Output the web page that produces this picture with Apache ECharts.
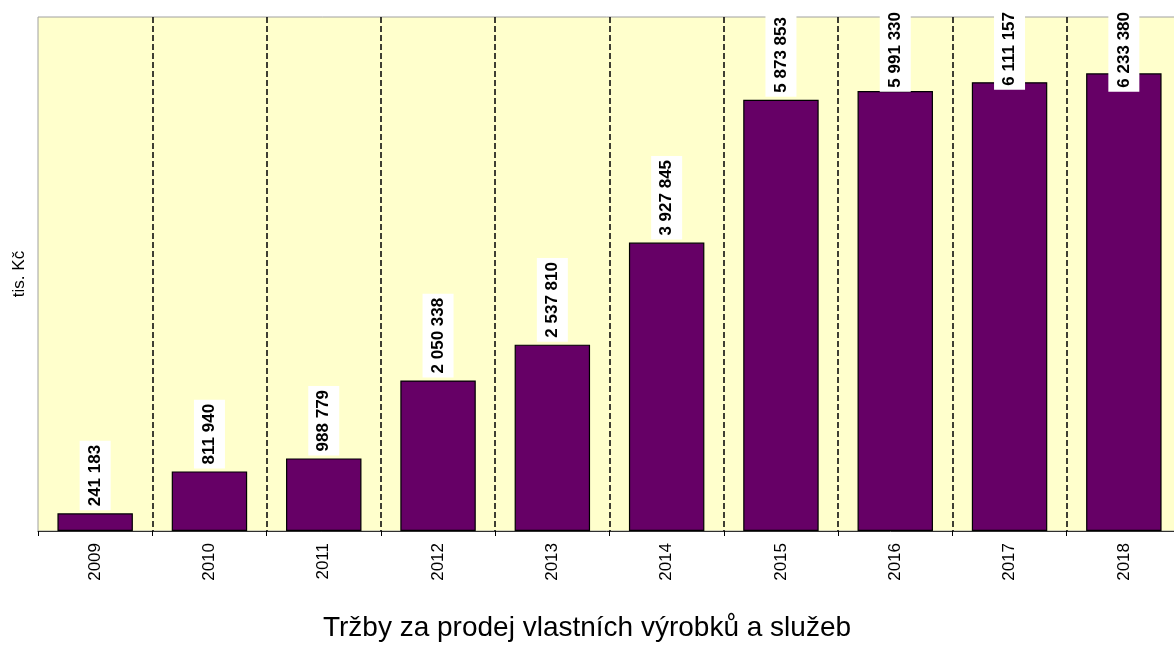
<!DOCTYPE html>
<html>
<head>
<meta charset="utf-8">
<script src="https://cdn.jsdelivr.net/npm/echarts@6/dist/echarts.min.js"></script>
<style>
html,body{margin:0;padding:0;background:#fff;}
#chart{width:1174px;height:648px;}
</style>
</head>
<body>
<div id="chart"></div>
<script>
var categories = ['2009','2010','2011','2012','2013','2014','2015','2016','2017','2018'];
var revenue = [241183, 811940, 988779, 2050338, 2537810, 3927845, 5873853, 5991330, 6111157, 6233380];
var titleText = 'Tržby za prodej vlastních výrobků a služeb';
var unitText = 'tis. Kč';

function fmt(v){ return String(v).replace(/\B(?=(\d{3})+(?!\d))/g, ' '); }

var FONT = '"Liberation Sans", Arial, sans-serif';
var chart = echarts.init(document.getElementById('chart'));
chart.setOption({
  backgroundColor: '#ffffff',
  animation: false,
  title: {
    text: titleText,
    left: 'center',
    top: 609,
    textStyle: { fontFamily: FONT, fontSize: 28, fontWeight: 'normal', color: '#000' }
  },
  grid: {
    left: 38, top: 17, width: 1143, height: 514,
    outerBoundsMode: 'none',
    containLabel: false,
    show: true, backgroundColor: '#FFFFCC', borderColor: '#a0a0a0', borderWidth: 1
  },
  xAxis: {
    type: 'category',
    data: categories,
    boundaryGap: true,
    axisLine: { show: true, lineStyle: { color: '#303030', width: 1 } },
    axisTick: { show: true, length: 5, lineStyle: { color: '#000' } },
    axisLabel: { rotate: 90, margin: 12, fontFamily: FONT, fontSize: 17, color: '#000' },
    splitLine: { show: true, showMinLine: false, lineStyle: { color: '#000', width: 1.5, type: [6, 3] } }
  },
  yAxis: {
    type: 'value',
    min: 0, max: 7000000,
    name: unitText,
    nameLocation: 'middle',
    nameGap: 10,
    nameTextStyle: { fontFamily: FONT, fontSize: 17, color: '#000' },
    axisLine: { show: false },
    axisTick: { show: false },
    axisLabel: { show: false },
    splitLine: { show: false }
  },
  series: [{
    type: 'bar',
    data: revenue,
    barCategoryGap: '34%',
    itemStyle: { color: '#660066', borderColor: '#000', borderWidth: 1.2 },
    label: {
      show: true,
      position: 'top',
      distance: 3,
      rotate: 90,
      align: 'left',
      verticalAlign: 'middle',
      formatter: function(p){ return fmt(p.value); },
      fontFamily: FONT,
      fontSize: 17,
      fontWeight: 'bold',
      color: '#000',
      backgroundColor: '#ffffff',
      padding: [7, 4]
    },
    labelLayout: function(p){
      var r = p.labelRect;
      if (r && r.y < 8) { return { dx: -(8 - r.y) }; }
      return {};
    }
  }]
});
</script>
</body>
</html>
